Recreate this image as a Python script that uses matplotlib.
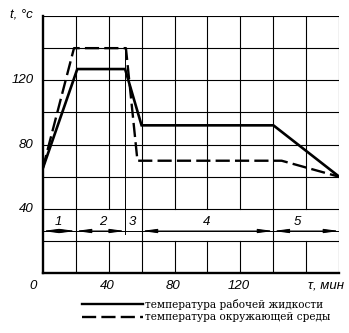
import matplotlib
matplotlib.use('Agg')
import matplotlib.pyplot as plt
from matplotlib.lines import Line2D

# время, мин / температура, °C
time_work = [0, 21, 50, 60, 140, 180]
temp_work = [65, 127, 127, 92, 92, 60]
time_env = [0, 19, 50.5, 57.5, 145, 180]
temp_env = [65, 140, 140, 70, 70, 60]

stage_bounds = [0, 20, 50, 60, 140, 180]
stage_labels = ['1', '2', '3', '4', '5']
stage_label_x = [9.5, 36.5, 54.5, 99.5, 154.5]

x_ticks = [40, 80, 120]
y_ticks = [40, 80, 120]
legend_labels = ['температура рабочей жидкости', 'температура окружающей среды']

tick_font = dict(family='Liberation Sans', style='italic', size=9.5)

fig = plt.figure(figsize=(3.49, 3.33), dpi=100)
ax = fig.add_axes([0.1223, 0.1793, 0.8500, 0.7727])
ax.set_xlim(0, 180)
ax.set_ylim(0, 160)

# сетка; в строке с номерами этапов линии прерываются
dim_y = 26.3
for x in range(20, 180, 20):
    if x in stage_bounds:
        ax.plot([x, x], [0, 160], color='black', lw=0.8)
    else:
        ax.plot([x, x], [0, 20], color='black', lw=0.8)
        ax.plot([x, x], [40, 160], color='black', lw=0.8)
for y in range(20, 161, 20):
    ax.plot([0, 180], [y, y], color='black', lw=0.8)
ax.plot([180, 180], [0, 160], color='black', lw=0.8)
ax.plot([50, 50], [dim_y - 2, 140], color='black', lw=0.7)

ax.plot(time_work, temp_work, color='black', lw=1.9, solid_joinstyle='miter')
ax.plot(time_env, temp_env, color='black', lw=1.7, dashes=(6, 2.2))

# размерная линия этапов
ax.plot([0, 180], [dim_y, dim_y], color='black', lw=0.7)
for a, b in zip(stage_bounds[:-1], stage_bounds[1:]):
    if b - a < 15:
        continue
    ax.annotate('', xy=(a, dim_y), xytext=(b, dim_y),
                arrowprops=dict(arrowstyle='<|-|>,head_length=0.9,head_width=0.12',
                                color='black', lw=0.7, shrinkA=0, shrinkB=0,
                                mutation_scale=10))
for x, lab in zip(stage_label_x, stage_labels):
    ax.text(x, dim_y + 2, lab, ha='center', va='bottom', **tick_font)

for s in ['top', 'right']:
    ax.spines[s].set_visible(False)
ax.spines['left'].set_linewidth(1.7)
ax.spines['bottom'].set_linewidth(1.7)
ax.set_xticks([])
ax.set_yticks([])

for v in y_ticks:
    ax.text(-5.5, v, str(v), ha='right', va='center', **tick_font)
for v in x_ticks:
    ax.text(v - 1, -4, str(v), ha='center', va='top', **tick_font)
ax.text(-6, -4, '0', ha='center', va='top', **tick_font)
ax.text(172, -4, 'τ, мин', ha='center', va='top', **tick_font)
ax.text(-13, 160, 't, °c', ha='center', va='center', **tick_font)

# легенда под графиком
W, H = 349, 333
rows = [(304, None), (317, (6, 2.2))]
for (py, dash), lab in zip(rows, legend_labels):
    yf = 1 - py / H
    ln = Line2D([82 / W, 143 / W], [yf, yf], transform=fig.transFigure,
                color='black', lw=1.7)
    if dash:
        ln.set_dashes(dash)
    fig.add_artist(ln)
    fig.text(145 / W, yf, lab, ha='left', va='center',
             family='DejaVu Serif', size=7.6)

fig.savefig('out.png', dpi=100)
